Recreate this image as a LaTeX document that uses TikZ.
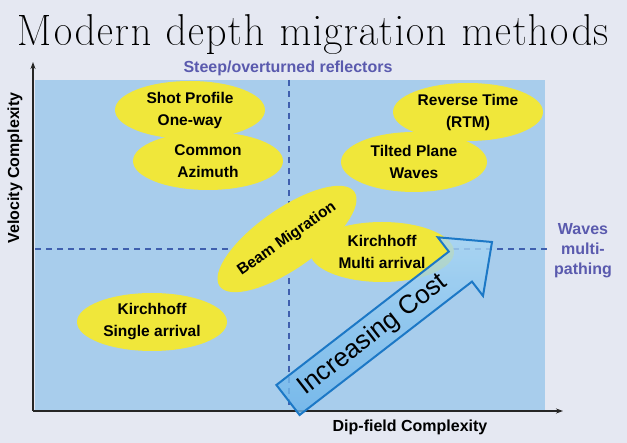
\documentclass[tikz,border=0pt]{standalone}
\usepackage[T1]{fontenc}
\usepackage{fontspec}
\setsansfont{Liberation Sans}
\usetikzlibrary{arrows.meta,shapes.geometric}
\definecolor{slide}{HTML}{E5E8F2}
\definecolor{plotbg}{HTML}{A8CDEC}
\definecolor{blob}{HTML}{F0E73A}
\definecolor{note}{HTML}{5A5AAE}
\definecolor{guide}{HTML}{3F5FAE}
\definecolor{costline}{HTML}{1C78C6}
\definecolor{costlo}{HTML}{A9D6F4}
\definecolor{costhi}{HTML}{6BB4EA}
\newcommand{\titlefont}{\usefont{T1}{qpl}{m}{n}\fontsize{44}{52}\selectfont}

\begin{document}
\begin{tikzpicture}[x=1pt,y=-1pt,
  method/.style={ellipse,fill=blob,inner sep=0pt,minimum width=150pt,minimum height=58pt,align=center,font=\sffamily\bfseries\fontsize{15.5}{22}\selectfont},
  guideline/.style={guide,dash pattern=on 6pt off 5pt,line width=1.2pt},
  axlabel/.style={font=\sffamily\bfseries\fontsize{16}{20}\selectfont,align=center},
  axis/.style={line width=1.5pt,black!85,-{Stealth[length=7pt,width=5pt]}}]
  \fill[slide] (0,0) rectangle (627,443);
  \useasboundingbox (0,0) rectangle (627,443);
  \node[inner sep=0pt] (title) at (313,34) {\resizebox{592pt}{!}{\titlefont Modern depth migration methods}};
  % plot area and guides
  \fill[plotbg] (35,80) rectangle (545,411);
  \coordinate (o) at (33,411);
  \coordinate (ytop) at (33,62);
  \coordinate (xend) at (563,411);
  \coordinate (vtop) at (289,80);
  \coordinate (vbot) at (289,411);
  \coordinate (hl) at (35,249);
  \coordinate (hr) at (550,249);
  \draw[guideline] (vtop) -- (vbot);
  \draw[guideline] (hl) -- (hr);
  \draw[axis] (o) -- (ytop);
  \draw[axis] (o) -- (xend);
  \node[axlabel,text=note] (steep) at (288,68) {Steep/overturned reflectors};
  \node[axlabel,text=note] (waves) at (583,251) {Waves\\multi-\\pathing};
  \node[axlabel,rotate=90] (vel) at (15,168) {Velocity Complexity};
  \node[axlabel] (dip) at (410,427) {Dip-field Complexity};
  % methods
  \node[method] (shot) at (190,110) {Shot Profile\\One-way};
  \node[method] (azi) at (208,161) {Common\\Azimuth};
  \node[method] (single) at (152,322) {Kirchhoff\\Single arrival};
  \node[method,rotate=35,minimum width=144pt,minimum height=60pt] (beam) at (287,239) {Beam Migration};
  \node[method,minimum width=144pt,minimum height=60pt] (multi) at (382,252) {Kirchhoff\\Multi arrival};
  \node[method] (rtm) at (468,112) {Reverse Time\\(RTM)};
  \node[method,minimum width=146pt,minimum height=60pt] (tilted) at (414,162) {Tilted Plane\\Waves};
  % cost arrow
  \draw[costline,line width=2pt,line join=miter,left color=costlo,right color=costhi,fill opacity=0.8,shading angle=0]
    (276.4,385) -- (448.8,251.6) -- (437.8,237.3) -- (492,242) -- (483,295.9) -- (472,281.6) -- (299.6,415) -- cycle;
  \node[rotate=37.8,font=\sffamily\fontsize{26}{30}\selectfont] (cost) at (373,335) {Increasing Cost};
\end{tikzpicture}
\end{document}
